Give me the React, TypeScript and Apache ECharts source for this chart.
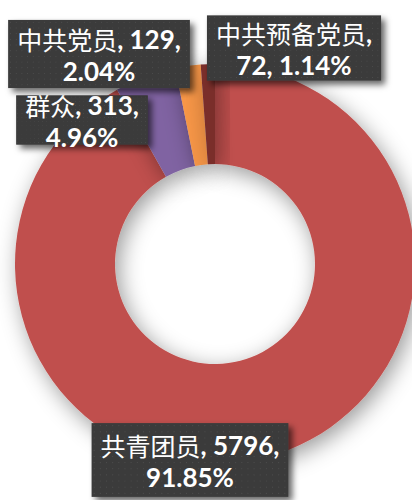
import React, { useEffect, useRef } from 'react';
import * as echarts from 'echarts';

const categories = ['共青团员', '群众', '中共党员', '中共预备党员'];
const counts = [5796, 313, 129, 72];
const percents = ['91.85%', '4.96%', '2.04%', '1.14%'];

const sliceColors = ['#C0504D', '#8064A2', '#F79646', '#7A2D2C'];
const labelCenters = [
  [190, 460],
  [82, 120],
  [99, 54],
  [294, 48],
];
const breakAfterName = [false, false, false, true];

function makeDotTexture(): HTMLCanvasElement {
  const w = 192;
  const h = 72;
  const cv = document.createElement('canvas');
  cv.width = w;
  cv.height = h;
  const ctx = cv.getContext('2d')!;
  ctx.fillStyle = '#3a3a3a';
  ctx.fillRect(0, 0, w, h);
  ctx.fillStyle = '#4e4e4e';
  for (let y = 2; y < h; y += 6) {
    for (let x = 2; x < w; x += 6) {
      ctx.fillRect(x, y, 1, 1);
    }
  }
  return cv;
}

export default function App() {
  const ref = useRef<HTMLDivElement>(null);
  useEffect(() => {
    if (!ref.current) return;
    const chart = echarts.init(ref.current, undefined, { renderer: 'svg' });
    const tex = makeDotTexture();
    const data = categories.map((name, i) => ({
      name,
      value: counts[i],
      itemStyle: { color: sliceColors[i] },
    }));
    chart.setOption({
      animation: false,
      backgroundColor: '#ffffff',
      series: [
        {
          type: 'pie',
          center: [215, 264],
          radius: [100, 200],
          startAngle: 90,
          clockwise: true,
          data,
          itemStyle: {
            shadowBlur: 22,
            shadowColor: 'rgba(0,0,0,0.4)',
            shadowOffsetX: 4,
            shadowOffsetY: 6,
          },
          labelLine: { show: false },
          label: {
            show: true,
            position: 'inside',
            overflow: 'none',
            formatter: (p: any) => {
              const i = p.dataIndex;
              if (breakAfterName[i]) {
                return `{c|${categories[i]}}{n|,}\n{n|${counts[i]}, ${percents[i]}}`;
              }
              return `{c|${categories[i]}}{n|, ${counts[i]},}\n{n|${percents[i]}}`;
            },
            backgroundColor: { image: tex },
            padding: [6, 9, 5, 9],
            align: 'center',
            shadowColor: 'rgba(0,0,0,0.6)',
            shadowBlur: 6,
            shadowOffsetX: 4,
            shadowOffsetY: 4,
            rich: {
              c: {
                fontFamily: '"Noto Sans CJK SC", sans-serif',
                fontSize: 25,
                fontWeight: 'normal',
                color: '#ffffff',
                lineHeight: 32,
                align: 'center',
              },
              n: {
                fontFamily: 'Lato, "Open Sans", sans-serif',
                fontSize: 26,
                fontWeight: 'bold',
                color: '#ffffff',
                lineHeight: 32,
                align: 'center',
              },
            },
          },
          labelLayout: (params: any) => {
            const c = labelCenters[params.dataIndex];
            return { x: c[0], y: c[1], align: 'center', verticalAlign: 'middle' };
          },
        },
      ],
    });
    return () => chart.dispose();
  }, []);
  return (
    <div
      ref={ref}
      style={{ position: 'fixed', left: 0, top: 0, width: 412, height: 500 }}
    />
  );
}
